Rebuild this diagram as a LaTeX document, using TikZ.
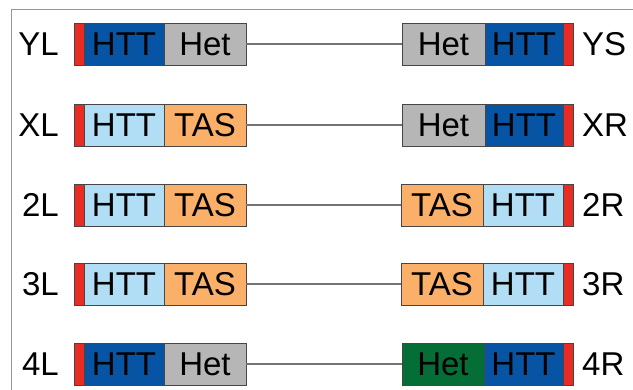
\documentclass[tikz,border=0pt]{standalone}
\usepackage{fontspec}
\setmainfont{Liberation Sans}
\definecolor{dkblue}{RGB}{8,84,164}
\definecolor{ltblue}{RGB}{178,222,245}
\definecolor{tasor}{RGB}{250,176,104}
\definecolor{hetgray}{RGB}{182,182,182}
\definecolor{hetgreen}{RGB}{5,110,55}
\definecolor{telred}{RGB}{232,44,36}
\definecolor{edge}{RGB}{70,70,70}
\definecolor{conn}{RGB}{115,115,115}
\definecolor{frame}{RGB}{150,150,150}
\begin{document}
\begin{tikzpicture}[x=1pt,y=-1pt,
  seg/.style={draw=edge, line width=0.9pt, minimum height=42pt, inner sep=0pt, outer sep=0pt,
    font=\fontsize{33}{33}\selectfont, text=black},
  wide/.style={seg, minimum width=80pt},
  tel/.style={seg, minimum width=10pt, fill=telred, anchor=west},
  lab/.style={font=\fontsize{33}{33}\selectfont, inner sep=0pt},
  link/.style={draw=conn, line width=2.2pt}]
\useasboundingbox (0,0) rectangle (633,390);
\draw[frame, line width=1pt] (11,400) -- (11,10) -- (640,10);
% Row YL
\node[tel] (yt1) at (74,44) {};
\node[wide, fill=dkblue, anchor=west] (yh1) at (yt1.east) {HTT};
\node[wide, fill=hetgray, anchor=west, minimum width=82pt] (ye1) at (yh1.east) {Het};
\node[wide, fill=hetgray, anchor=west, minimum width=83pt] (ye2) at (402,44) {Het};
\node[wide, fill=dkblue, anchor=west, minimum width=78pt] (yh2) at (ye2.east) {HTT};
\node[tel] (yt2) at (yh2.east) {};
\node[lab, anchor=east] (yl) at (59,44) {YL};
\node[lab, anchor=west] (yr) at (582,44) {YS};
\draw[link] (ye1) -- (ye2);
% Row XL
\node[tel] (xt1) at (74,125) {};
\node[wide, fill=ltblue, anchor=west] (xh1) at (xt1.east) {HTT};
\node[wide, fill=tasor, anchor=west, minimum width=82pt] (xe1) at (xh1.east) {TAS};
\node[wide, fill=hetgray, anchor=west, minimum width=83pt] (xe2) at (402,125) {Het};
\node[wide, fill=dkblue, anchor=west, minimum width=78pt] (xh2) at (xe2.east) {HTT};
\node[tel] (xt2) at (xh2.east) {};
\node[lab, anchor=east] (xl) at (59,125) {XL};
\node[lab, anchor=west] (xr) at (582,125) {XR};
\draw[link] (xe1) -- (xe2);
% Row 2L
\node[tel] (bt1) at (74,205) {};
\node[wide, fill=ltblue, anchor=west] (bh1) at (bt1.east) {HTT};
\node[wide, fill=tasor, anchor=west, minimum width=82pt] (be1) at (bh1.east) {TAS};
\node[wide, fill=tasor, anchor=west, minimum width=82pt] (be2) at (401,205) {TAS};
\node[wide, fill=ltblue, anchor=west, minimum width=80pt] (bh2) at (be2.east) {HTT};
\node[tel] (bt2) at (bh2.east) {};
\node[lab, anchor=east] (bl) at (59,205) {2L};
\node[lab, anchor=west] (br) at (582,205) {2R};
\draw[link] (be1) -- (be2);
% Row 3L
\node[tel] (ct1) at (74,284) {};
\node[wide, fill=ltblue, anchor=west] (ch1) at (ct1.east) {HTT};
\node[wide, fill=tasor, anchor=west, minimum width=82pt] (ce1) at (ch1.east) {TAS};
\node[wide, fill=tasor, anchor=west, minimum width=82pt] (ce2) at (401,284) {TAS};
\node[wide, fill=ltblue, anchor=west, minimum width=80pt] (ch2) at (ce2.east) {HTT};
\node[tel] (ct2) at (ch2.east) {};
\node[lab, anchor=east] (cl) at (59,284) {3L};
\node[lab, anchor=west] (cr) at (582,284) {3R};
\draw[link] (ce1) -- (ce2);
% Row 4L
\node[tel] (dt1) at (74,364) {};
\node[wide, fill=dkblue, anchor=west] (dh1) at (dt1.east) {HTT};
\node[wide, fill=hetgray, anchor=west, minimum width=82pt] (de1) at (dh1.east) {Het};
\node[wide, fill=hetgreen, anchor=west, minimum width=82pt] (de2) at (402,364) {Het};
\node[wide, fill=dkblue, anchor=west, minimum width=79pt] (dh2) at (de2.east) {HTT};
\node[tel] (dt2) at (dh2.east) {};
\node[lab, anchor=east] (dl) at (59,364) {4L};
\node[lab, anchor=west] (dr) at (582,364) {4R};
\draw[link] (de1) -- (de2);
\end{tikzpicture}
\end{document}
